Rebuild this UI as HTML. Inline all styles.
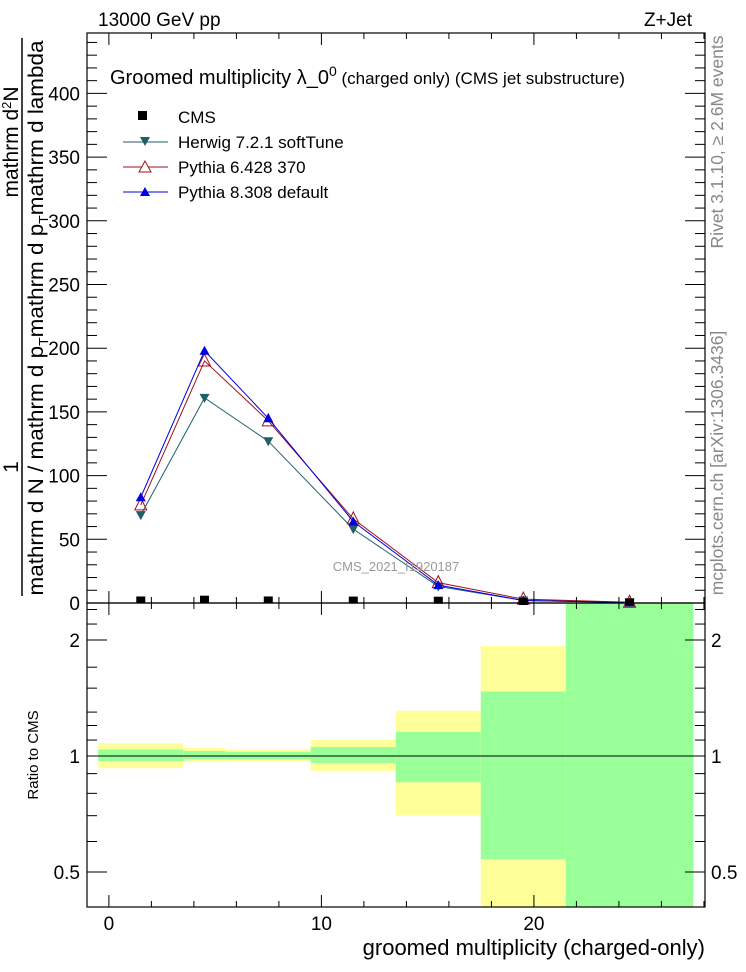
<!DOCTYPE html>
<html><head><meta charset="utf-8"><style>
html,body{margin:0;padding:0;background:#fff;}
svg{display:block;font-family:"Liberation Sans",sans-serif;}
</style></head><body>
<svg id="chart" width="746" height="972" viewBox="0 0 746 972" xmlns="http://www.w3.org/2000/svg">
<g id="ratio-bands"></g>
<g id="main-series"></g>
<g id="axes"></g>
<text x="98" y="26" font-size="19">13000 GeV pp</text>
<text x="692" y="26" font-size="19" text-anchor="end">Z+Jet</text>
<text x="110" y="84" font-size="20">Groomed multiplicity  λ_0<tspan dy="-8" font-size="14">0</tspan><tspan dy="8" font-size="17"> (charged only) (CMS jet substructure)</tspan></text>
<g>
<rect x="138" y="111" width="9" height="9" fill="#000"/>
<text x="178" y="123" font-size="17">CMS</text>
<line x1="123" y1="142" x2="168" y2="142" stroke="#1f5f6a"/>
<polygon points="140,137 150,137 145,146" fill="#1f5f6a"/>
<text x="178" y="148" font-size="17">Herwig 7.2.1 softTune</text>
<line x1="123" y1="167" x2="168" y2="167" stroke="#a0101a"/>
<polygon points="145,161 139,172 151,172" fill="#fff" stroke="#a0101a"/>
<text x="178" y="173" font-size="17">Pythia 6.428 370</text>
<line x1="123" y1="192" x2="168" y2="192" stroke="#0000e0"/>
<polygon points="145,187 140,196 150,196" fill="#0000e0"/>
<text x="178" y="198" font-size="17">Pythia 8.308 default</text>
</g>
<text x="396" y="571" font-size="13" fill="#999" text-anchor="middle">CMS_2021_I1920187</text>
<line x1="22" y1="38" x2="22" y2="596" stroke="#000" stroke-width="1.5"/>
<text transform="translate(18,142) rotate(-90)" font-size="21" text-anchor="middle">mathrm d<tspan dy="-7" font-size="13">2</tspan><tspan dy="7">N</tspan></text>
<text transform="translate(18,467) rotate(-90)" font-size="21" text-anchor="middle">1</text>
<text transform="translate(43,318) rotate(-90)" font-size="21" text-anchor="middle" textLength="555" lengthAdjust="spacingAndGlyphs">mathrm d N / mathrm d p<tspan dy="5" font-size="13">T</tspan><tspan dy="-5">mathrm d p</tspan><tspan dy="5" font-size="13">T</tspan><tspan dy="-5">mathrm d lambda</tspan></text>
<text transform="translate(723,142) rotate(-90)" font-size="17.5" fill="#888" text-anchor="middle">Rivet 3.1.10, ≥ 2.6M events</text>
<text transform="translate(723,463) rotate(-90)" font-size="17.5" fill="#888" text-anchor="middle">mcplots.cern.ch [arXiv:1306.3436]</text>
<text transform="translate(38,755) rotate(-90)" font-size="15" text-anchor="middle">Ratio to CMS</text>
<text x="705" y="955" font-size="22" text-anchor="end">groomed multiplicity (charged-only)</text>
</svg>
<script>
const binEdges = [-0.5, 3.5, 5.5, 9.5, 13.5, 17.5, 21.5, 27.5];
const binCenters = [1.5, 4.5, 7.5, 11.5, 15.5, 19.5, 24.5];
const cmsValues = [1.6, 2.2, 1.6, 1.5, 1.4, 0.4, 0.1];
const herwigValues = [69, 161, 127, 58, 13, 2, 0.5];
const pythia6Values = [77, 190, 143, 66, 16, 3, 0.6];
const pythia8Values = [83, 198, 145, 64, 14, 2, 0.4];
const bandGreenHi = [1.04, 1.03, 1.025, 1.055, 1.155, 1.47, 3.0];
const bandGreenLo = [0.97, 0.98, 0.98, 0.96, 0.855, 0.54, 0.3];
const bandYellowHi = [1.08, 1.05, 1.04, 1.10, 1.31, 1.93, 3.0];
const bandYellowLo = [0.93, 0.965, 0.97, 0.915, 0.70, 0.3, 0.3];
const xTickLabels = [0, 10, 20];
const mainYTickLabels = [0, 50, 100, 150, 200, 250, 300, 350, 400];
const ratioTickLabels = [0.5, 1, 2];
const ratioMinor = [0.4, 0.6, 0.7, 0.8, 0.9, 1.1, 1.2, 1.3, 1.5, 1.7, 2.2, 2.4];

const NS = 'http://www.w3.org/2000/svg';
const L = 87, R = 705, MT = 33, MB = 603, RT = 603, RB = 907;
const xMin = -1.03, xMax = 28.05;
const X = v => L + (v - xMin) / (xMax - xMin) * (R - L);
const YM = v => MB - v * 1.274;
const YR = v => { const y = 756 - Math.log2(v) * 116; return Math.max(RT, Math.min(RB, y)); };
function mk(tag, attrs, parent) { const e = document.createElementNS(NS, tag); for (const k in attrs) e.setAttribute(k, attrs[k]); parent.appendChild(e); return e; }
const bands = document.getElementById('ratio-bands');
const series = document.getElementById('main-series');
const axes = document.getElementById('axes');

for (let i = 0; i < binCenters.length; i++) {
  const x1 = X(binEdges[i]), x2 = X(binEdges[i + 1]);
  const y = mk('rect', {x: x1, y: YR(bandYellowHi[i]), width: x2 - x1, height: YR(bandYellowLo[i]) - YR(bandYellowHi[i]), fill: '#ffff99'}, bands);
  
  
  const g = mk('rect', {x: x1, y: YR(bandGreenHi[i]), width: x2 - x1, height: YR(bandGreenLo[i]) - YR(bandGreenHi[i]), fill: '#99ff99'}, bands);
  
  
}
const one = mk('line', {x1: L, x2: R, y1: YR(1), y2: YR(1), stroke: '#000', 'stroke-width': 1}, bands);



function drawSeries(vals, color, kind, name) {
  const pts = binCenters.map((c, i) => X(c) + ',' + YM(vals[i])).join(' ');
  const pl = mk('polyline', {points: pts, fill: 'none', stroke: color, 'stroke-width': 1}, series);
  
  
  binCenters.forEach((c, i) => {
    const x = X(c), y = YM(vals[i]);
    let p;
    if (kind === 'down') p = mk('polygon', {points: `${x-5},${y-4} ${x+5},${y-4} ${x},${y+5}`, fill: color}, series);
    else if (kind === 'up') p = mk('polygon', {points: `${x},${y-5} ${x-5},${y+4} ${x+5},${y+4}`, fill: color}, series);
    else p = mk('polygon', {points: `${x},${y-7} ${x-6},${y+5} ${x+6},${y+5}`, fill: '#fff', 'fill-opacity': 0, stroke: color}, series);
    
    
  });
}
drawSeries(herwigValues, '#1f5f6a', 'down', 'herwig');
drawSeries(pythia6Values, '#a0101a', 'open', 'pythia6');
drawSeries(pythia8Values, '#0000e0', 'up', 'pythia8');
binCenters.forEach((c, i) => {
  const s = mk('rect', {x: X(c) - 4.5, y: YM(cmsValues[i]) - 4.5, width: 9, height: 7, fill: '#000'}, series);
  
  
});

[[MT, MB], [RT, RB]].forEach(([t, b], k) => {
  const f = mk('rect', {x: L, y: t, width: R - L, height: b - t, fill: 'none', stroke: '#000', 'stroke-width': 1.2}, axes);
  
  
});
for (let v = 0; v <= 28; v += 2) {
  const major = v % 10 === 0, len = major ? 12 : 6, x = X(v);
  [[MB, -1], [MT, 1], [RB, -1], [RT, 1]].forEach(([y0, d]) => {
    const t = mk('line', {x1: x, x2: x, y1: y0, y2: y0 + d * len, stroke: '#000'}, axes);
    
    
  });
}
xTickLabels.forEach(v => {
  const t = mk('text', {x: X(v), y: 930, 'font-size': 19, 'text-anchor': 'middle'}, axes);
  t.textContent = v;
  
  
});
for (let v = 0; v <= 440; v += 10) {
  const major = v % 50 === 0, len = major ? 20 : 10, y = YM(v);
  if (y < MT) continue;
  [[L, 1], [R, -1]].forEach(([x0, d]) => {
    const t = mk('line', {x1: x0, x2: x0 + d * len, y1: y, y2: y, stroke: '#000'}, axes);
    
    
  });
}
mainYTickLabels.forEach(v => {
  const t = mk('text', {x: 80, y: YM(v) + 7, 'font-size': 19, 'text-anchor': 'end'}, axes);
  t.textContent = v;
  
  
});
ratioTickLabels.concat(ratioMinor).forEach(v => {
  const major = ratioTickLabels.includes(v), len = major ? 20 : 10, y = YR(v);
  [[L, 1], [R, -1]].forEach(([x0, d]) => {
    const t = mk('line', {x1: x0, x2: x0 + d * len, y1: y, y2: y, stroke: '#000'}, axes);
    
    
  });
});
ratioTickLabels.forEach(v => {
  const a = mk('text', {x: 80, y: YR(v) + 7, 'font-size': 19, 'text-anchor': 'end'}, axes);
  a.textContent = v;
  
  
  const b = mk('text', {x: 711, y: YR(v) + 7, 'font-size': 19}, axes);
  b.textContent = v;
  
  
});
</script>
</body></html>
